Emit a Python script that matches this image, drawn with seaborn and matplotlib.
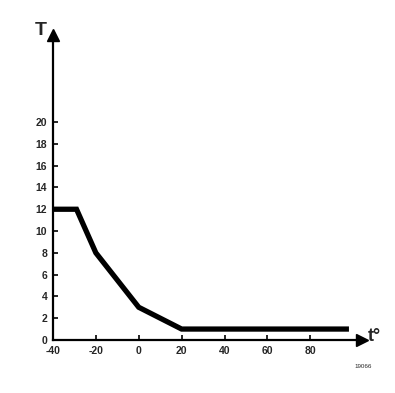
import matplotlib
matplotlib.use("Agg")
import matplotlib.pyplot as plt
import seaborn as sns
import pandas as pd

# curve
temp = [-40, -29, -20, 0, 20, 98]
T_val = [12, 12, 8, 3, 1, 1]
x_ticks = [-40, -20, 0, 20, 40, 60, 80]
y_ticks = [0, 2, 4, 6, 8, 10, 12, 14, 16, 18, 20]

df = pd.DataFrame({"t": temp, "T": T_val})

sns.set_style("white")
plt.rcParams["font.family"] = ["Liberation Sans", "DejaVu Sans"]
plt.rcParams["axes.unicode_minus"] = False

fig = plt.figure(figsize=(3.95, 3.93), dpi=100)
ax = fig.add_axes([0.134, 0.135, 0.782, 0.776])

sns.lineplot(data=df, x="t", y="T", color="black", linewidth=3.8, ax=ax,
             solid_joinstyle="miter", solid_capstyle="butt", sort=False)

ax.set_xlim(-40, 104)
ax.set_ylim(0, 28)
ax.set_xticks(x_ticks)
ax.set_yticks(y_ticks)
ax.tick_params(bottom=True, left=True, direction="in", length=3.5, width=1.2,
               color="black", labelsize=7.5, pad=4)
for lab in ax.get_xticklabels() + ax.get_yticklabels():
    lab.set_fontweight("bold")
ax.set_xlabel("")
ax.set_ylabel("")

for s in ["top", "right"]:
    ax.spines[s].set_visible(False)
for s in ["left", "bottom"]:
    ax.spines[s].set_linewidth(1.6)
    ax.spines[s].set_color("black")

# arrow heads on the axes
ax.plot(1, 0, ">", color="black", markersize=8, transform=ax.transAxes, clip_on=False)
ax.plot(0, 1, "^", color="black", markersize=8, transform=ax.transAxes, clip_on=False)

fig.text(0.088, 0.9, "T", fontsize=14, fontweight="bold", ha="left", va="bottom")
fig.text(0.93, 0.122, "t°", fontsize=13, fontweight="bold", ha="left", va="bottom")
fig.text(0.92, 0.068, "19066", fontsize=4.5, ha="center", va="center")

fig.savefig("out.png", dpi=100)
